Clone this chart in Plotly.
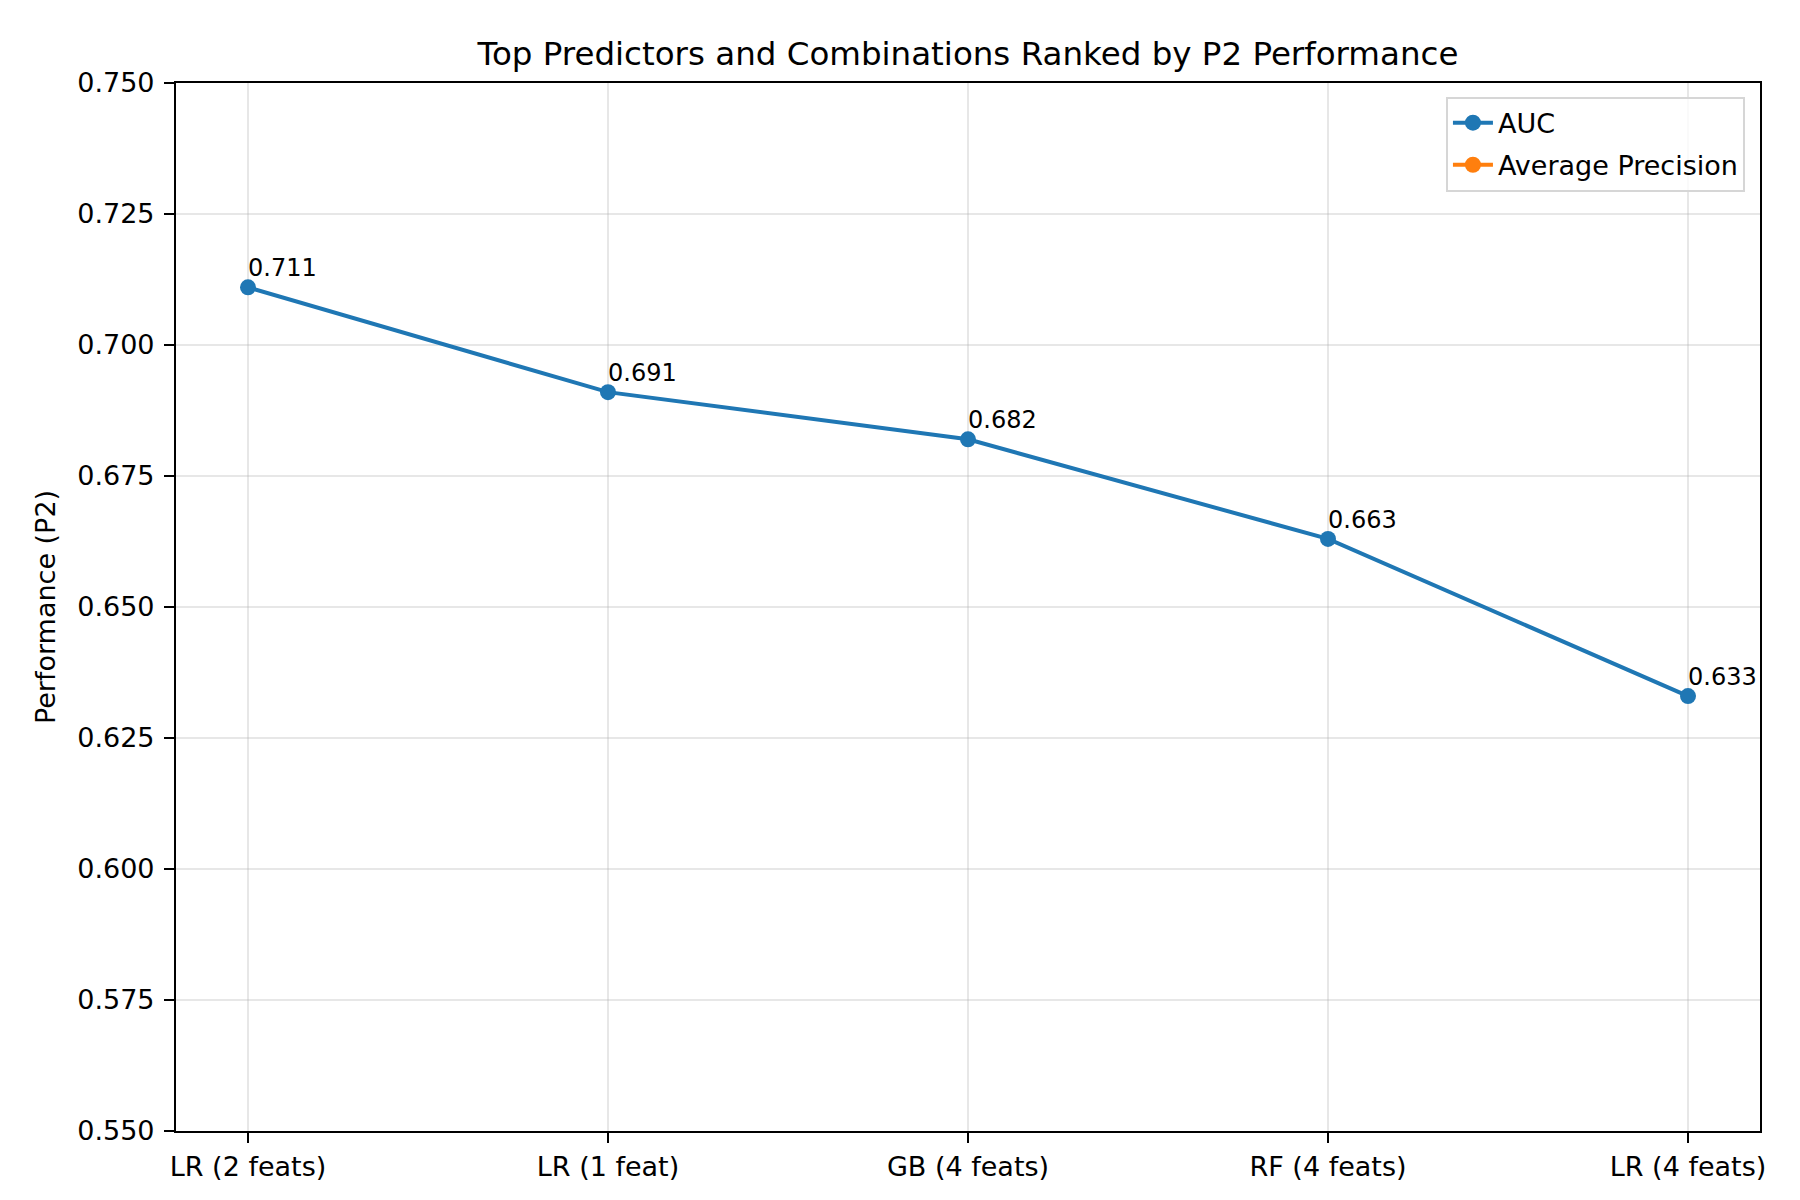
import plotly.graph_objects as go

categories = ["LR (2 feats)", "LR (1 feat)", "GB (4 feats)", "RF (4 feats)", "LR (4 feats)"]
auc_values = [0.711, 0.691, 0.682, 0.663, 0.633]
ap_values = [None, None, None, None, None]  # not visible within the plotted range
y_ticks = [0.550, 0.575, 0.600, 0.625, 0.650, 0.675, 0.700, 0.725, 0.750]

BLUE = "#1f77b4"
ORANGE = "#ff7f0e"
FONT = "DejaVu Sans"
TICK = 27

fig = go.Figure()
fig.add_trace(go.Scatter(
    x=list(range(len(categories))), y=auc_values, name="AUC", legendgroup="a",
    mode="lines+markers", line=dict(color=BLUE, width=4),
    marker=dict(color=BLUE, size=16),
))
fig.add_trace(go.Scatter(
    x=list(range(len(categories))), y=ap_values, name="Average Precision", legendgroup="b",
    mode="lines+markers", line=dict(color=ORANGE, width=4),
    marker=dict(color=ORANGE, size=16),
))

for i, v in enumerate(auc_values):
    fig.add_annotation(
        x=i, y=v, text=f"{v:.3f}", showarrow=False,
        xanchor="left", yanchor="bottom", xshift=-2, yshift=3,
        font=dict(family=FONT, size=24, color="black"),
    )

fig.update_layout(
    width=1800, height=1200,
    paper_bgcolor="white", plot_bgcolor="white",
    margin=dict(l=168, r=48, t=75, b=77),
    font=dict(family=FONT, color="black", size=TICK),
    title=dict(text="Top Predictors and Combinations Ranked by P2 Performance",
               x=(168 + 1752) / 2 / 1800, xanchor="center", y=1 - 46 / 1200, yanchor="middle",
               yref="container", xref="container",
               font=dict(family=FONT, size=32.5, color="black")),
    legend=dict(x=0.9905, xanchor="right", y=0.987, yanchor="top",
                bgcolor="rgba(255,255,255,0.8)", bordercolor="#d6d6d6", borderwidth=2,
                font=dict(family=FONT, size=TICK), itemwidth=40,
                tracegroupgap=4),
    showlegend=True,
)

fig.update_xaxes(
    range=[-0.2, 4.2], tickmode="array",
    tickvals=list(range(len(categories))), ticktext=categories,
    showgrid=True, gridcolor="rgba(176,176,176,0.3)", gridwidth=2,
    showline=True, linecolor="black", linewidth=2.2, mirror=True,
    ticks="outside", ticklen=10, tickwidth=2.2, tickcolor="black",
    ticklabelstandoff=0,
    tickfont=dict(family=FONT, size=TICK), zeroline=False,
)
fig.update_yaxes(
    range=[0.55, 0.75], tickmode="array", tickvals=y_ticks,
    ticktext=[f"{t:.3f}" for t in y_ticks],
    title=dict(text="Performance (P2)", font=dict(family=FONT, size=TICK), standoff=14),
    showgrid=True, gridcolor="rgba(176,176,176,0.3)", gridwidth=2,
    showline=True, linecolor="black", linewidth=2.2, mirror=True,
    ticks="outside", ticklen=10, tickwidth=2.2, tickcolor="black",
    ticklabelstandoff=4,
    tickfont=dict(family=FONT, size=TICK), zeroline=False,
)

fig.write_html("out.html")
